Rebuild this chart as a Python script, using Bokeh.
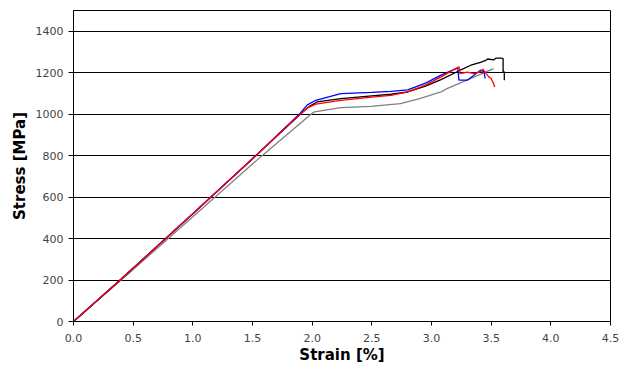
from bokeh.plotting import figure
from bokeh.models import FixedTicker, PrintfTickFormatter
from bokeh.embed import file_html
from bokeh.resources import INLINE

# Data (strain in %, stress in MPa)
black_x = [0, 0.4, 1.0, 1.5, 1.9, 1.97, 2.04, 2.24, 2.5, 2.66, 2.80, 2.95, 3.08, 3.24, 3.33, 3.41, 3.45, 3.47, 3.52, 3.54, 3.58, 3.60, 3.60, 3.61, 3.61]
black_y = [0, 205, 520, 785, 1000, 1035, 1059, 1075, 1088, 1096, 1107, 1135, 1167, 1212, 1236, 1250, 1258, 1266, 1262, 1270, 1270, 1268, 1204, 1204, 1164]

red_x = [0, 0.4, 1.0, 1.5, 1.9, 1.96, 2.03, 2.24, 2.5, 2.66, 2.80, 2.95, 3.08, 3.23, 3.24, 3.30, 3.36, 3.41, 3.43, 3.48, 3.50, 3.52, 3.53]
red_y = [0, 205, 520, 785, 1000, 1030, 1048, 1067, 1082, 1091, 1107, 1140, 1180, 1228, 1196, 1203, 1196, 1205, 1217, 1180, 1172, 1148, 1131]

blue_x = [0, 0.4, 1.0, 1.5, 1.9, 1.96, 2.03, 2.24, 2.5, 2.66, 2.80, 2.95, 3.08, 3.22, 3.23, 3.30, 3.41, 3.44, 3.45]
blue_y = [0, 205, 520, 785, 1005, 1045, 1067, 1099, 1105, 1110, 1117, 1150, 1188, 1223, 1164, 1164, 1212, 1204, 1172]

gray_x = [0, 0.4, 1.0, 1.58, 1.99, 2.02, 2.24, 2.49, 2.74, 2.9, 3.08, 3.13, 3.36, 3.52]
gray_y = [0, 200, 505, 800, 1000, 1011, 1032, 1038, 1051, 1075, 1107, 1123, 1180, 1220]

x_ticks = [0, 0.5, 1.0, 1.5, 2.0, 2.5, 3.0, 3.5, 4.0, 4.5]
y_ticks = [0, 200, 400, 600, 800, 1000, 1200, 1400]

p = figure(width=619, height=369, x_range=(0, 4.5), y_range=(0, 1500),
           output_backend="svg", toolbar_location=None,
           min_border_left=73, min_border_right=9, min_border_top=10, min_border_bottom=48)

p.background_fill_color = "white"
p.border_fill_color = "white"
p.outline_line_color = "black"
p.outline_line_width = 1

p.xgrid.visible = False
p.ygrid.grid_line_color = "black"
p.ygrid.grid_line_width = 1
p.ygrid.ticker = FixedTicker(ticks=y_ticks)

p.line(gray_x, gray_y, line_color="#808080", line_width=1.3)
p.line(black_x, black_y, line_color="black", line_width=1.3)
p.line(blue_x, blue_y, line_color="#0000FF", line_width=1.3)
p.line(red_x, red_y, line_color="#FF0000", line_width=1.3)

for ax in (p.xaxis[0], p.yaxis[0]):
    ax.axis_line_color = "black"
    ax.major_tick_line_color = "black"
    ax.minor_tick_line_color = None
    ax.major_tick_in = 0
    ax.major_label_text_font = "DejaVu Sans"
    ax.major_label_text_font_size = "11px"
    ax.major_label_text_color = "#444444"
    ax.axis_label_text_font = "DejaVu Sans"
    ax.axis_label_text_font_style = "bold"
    ax.axis_label_text_font_size = "15px"
    ax.axis_label_text_color = "black"

p.xaxis.ticker = FixedTicker(ticks=x_ticks)
p.xaxis.formatter = PrintfTickFormatter(format="%.1f")
p.xaxis.major_tick_out = 4
p.xaxis.major_label_standoff = 8
p.xaxis.axis_label = "Strain [%]"
p.xaxis.axis_label_standoff = 1

p.yaxis.ticker = FixedTicker(ticks=y_ticks)
p.yaxis.major_tick_out = 5
p.yaxis.major_label_standoff = 5
p.yaxis.axis_label = "Stress [MPa]"
p.yaxis.axis_label_standoff = 4

open("out.html", "w").write(file_html(p, INLINE))
